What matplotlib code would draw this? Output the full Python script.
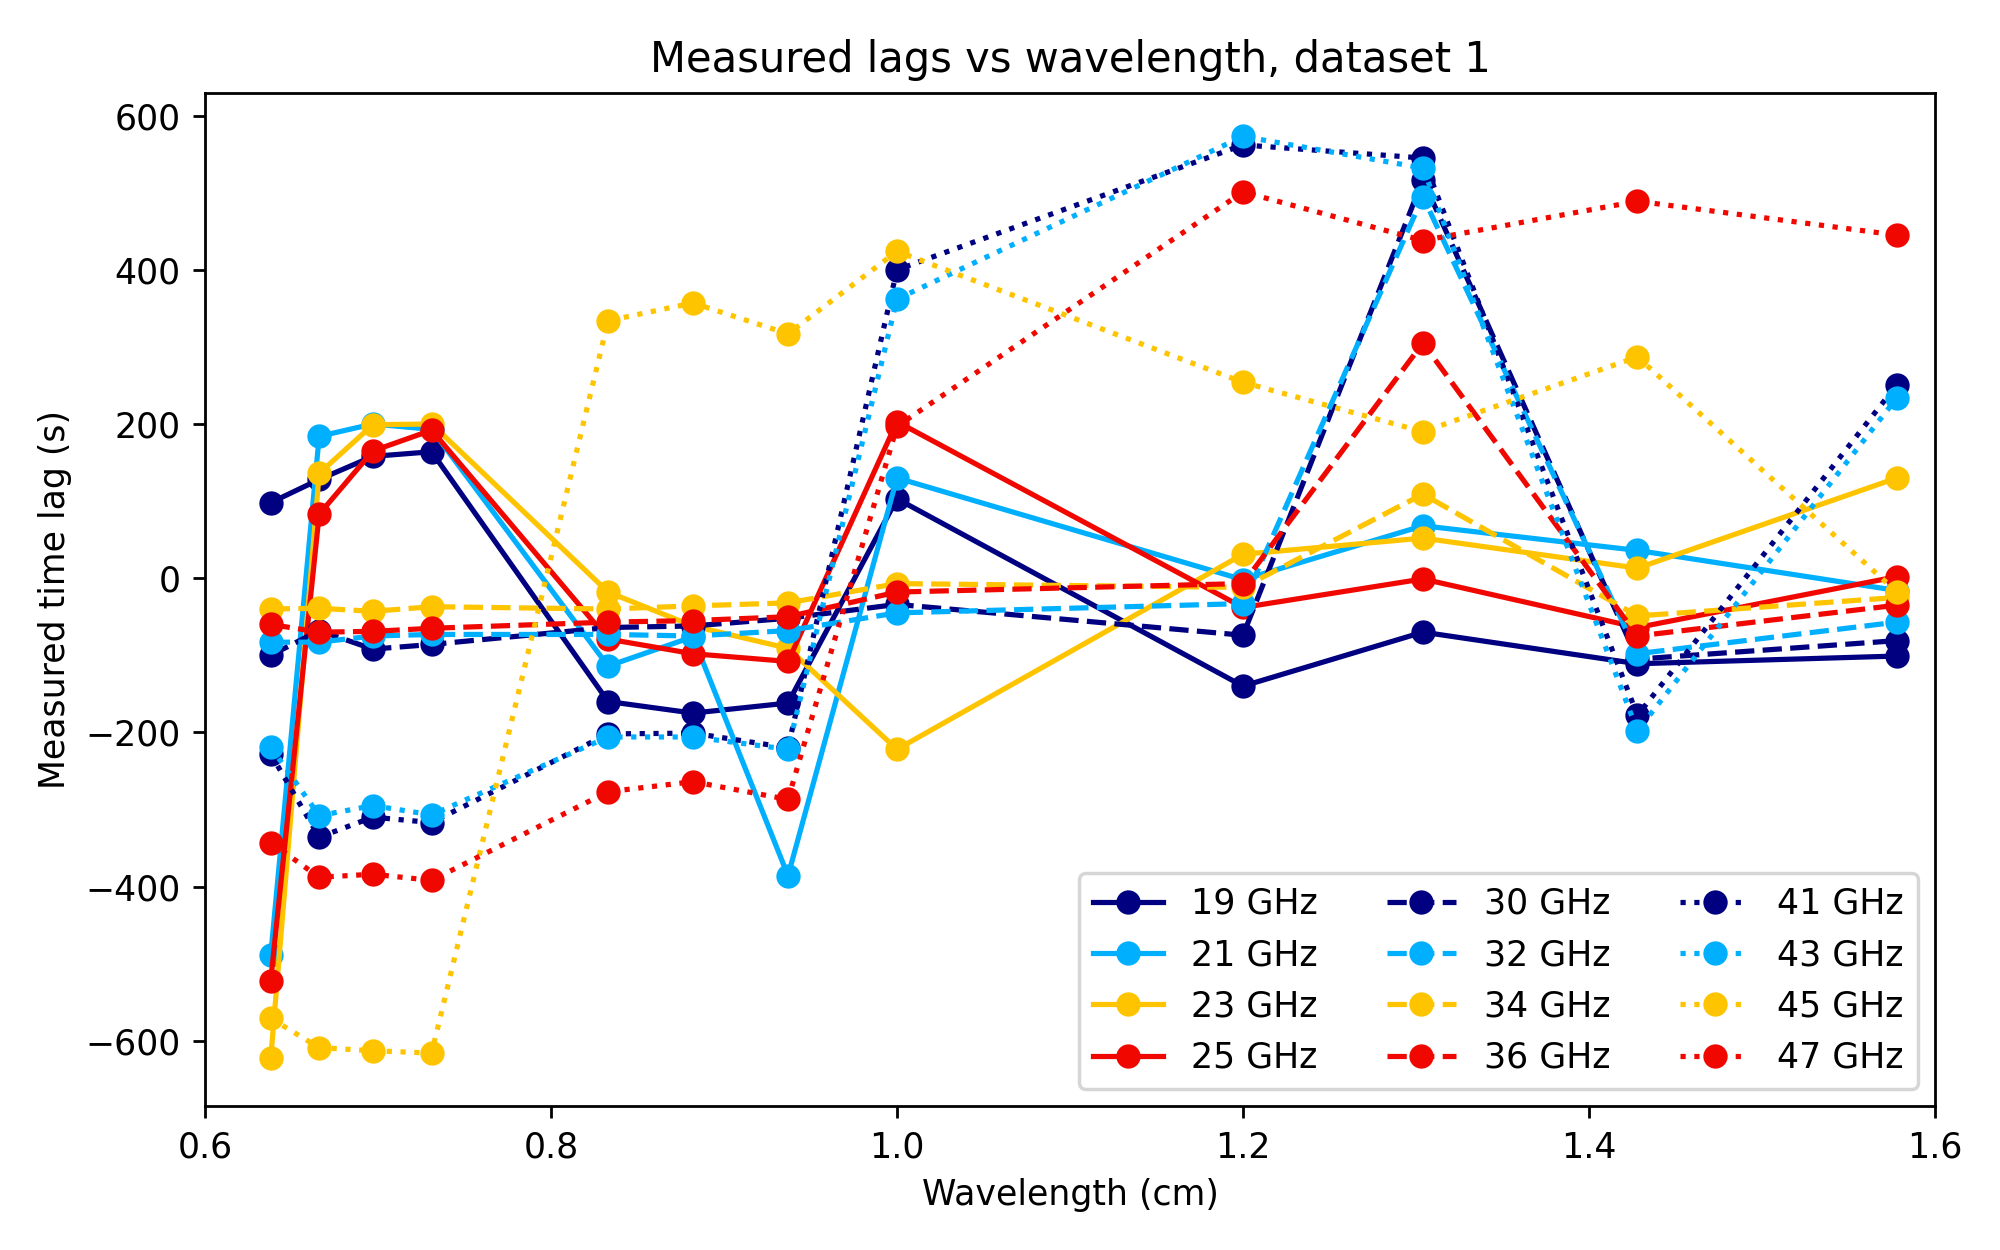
import matplotlib
matplotlib.use("Agg")
import matplotlib.pyplot as plt

wavelength = [0.638, 0.666, 0.697, 0.731, 0.833, 0.882, 0.937, 1.0, 1.2, 1.304, 1.428, 1.578]

labels = ["19 GHz", "21 GHz", "23 GHz", "25 GHz",
          "30 GHz", "32 GHz", "34 GHz", "36 GHz",
          "41 GHz", "43 GHz", "45 GHz", "47 GHz"]

lag_19 = [98, 128, 158, 164, -160, -175, -162, 103, -140, -70, -111, -101]
lag_21 = [-489, 184, 200, 193, -114, -76, -386, 130, -2, 68, 36, -16]
lag_23 = [-623, 136, 199, 200, -18, -62, -91, -222, 31, 52, 13, 130]
lag_25 = [-522, 83, 165, 192, -79, -98, -108, 203, -38, -1, -64, 2]
lag_30 = [-100, -68, -92, -86, -64, -62, -52, -34, -74, 517, -105, -81]
lag_32 = [-83, -83, -75, -73, -73, -75, -68, -45, -33, 495, -98, -57]
lag_34 = [-40, -39, -43, -37, -40, -36, -32, -7, -12, 109, -49, -25]
lag_36 = [-60, -70, -69, -65, -57, -55, -50, -18, -7, 305, -75, -35]
lag_41 = [-228, -336, -310, -317, -202, -201, -220, 400, 562, 545, -178, 251]
lag_43 = [-219, -308, -295, -307, -206, -206, -222, 362, 573, 532, -198, 234]
lag_45 = [-571, -609, -613, -616, 334, 357, 317, 424, 254, 190, 287, -18]
lag_47 = [-343, -388, -384, -392, -277, -264, -287, 197, 501, 438, 489, 445]

series = [lag_19, lag_21, lag_23, lag_25,
          lag_30, lag_32, lag_34, lag_36,
          lag_41, lag_43, lag_45, lag_47]

colors = ["#000080", "#00B0FF", "#FFC400", "#F00800"]
styles = ["-", "--", ":"]

fig = plt.figure(figsize=(8, 5), dpi=250)
ax = fig.add_axes([0.1025, 0.115, 0.865, 0.811])

for i, (vals, lab) in enumerate(zip(series, labels)):
    ax.plot(wavelength, vals, linestyle=styles[i // 4], color=colors[i % 4],
            marker="o", markersize=6, linewidth=1.5, label=lab)

ax.set_xlim(0.6, 1.6)
ax.set_ylim(-685, 630)
ax.set_xticks([0.6, 0.8, 1.0, 1.2, 1.4, 1.6])
ax.set_yticks([-600, -400, -200, 0, 200, 400, 600])
ax.set_xlabel("Wavelength (cm)")
ax.set_ylabel("Measured time lag (s)")
ax.set_title("Measured lags vs wavelength, dataset 1", fontsize=12)
ax.legend(loc="lower right", ncol=3, fontsize=10)

fig.savefig("out.png", dpi=250)
